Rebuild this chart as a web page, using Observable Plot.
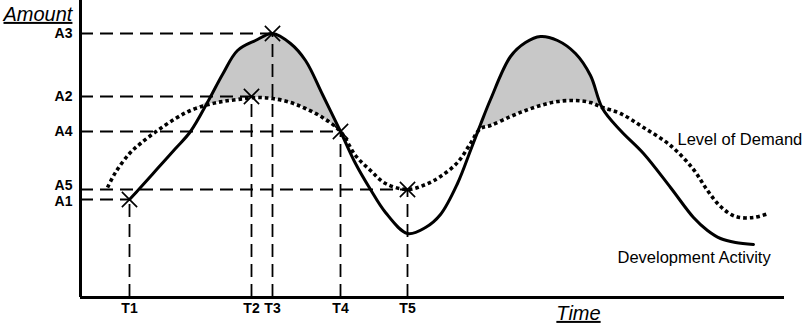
<!DOCTYPE html>
<html><head><meta charset="utf-8">
<script src="https://cdn.jsdelivr.net/npm/d3@7"></script>
<script src="https://cdn.jsdelivr.net/npm/@observablehq/plot@0.6"></script>
<style>body{margin:0;background:#fff}</style>
</head><body><div id="chart"></div>
<script>
// Time axis samples and the two curves (amount above the time axis)
const time     = [27, 35, 49, 60, 77, 95, 110, 128, 142, 157, 175, 192, 210, 225, 242, 260, 275, 290, 305, 327, 345, 360, 377, 390, 400, 410, 430, 445, 460, 477, 495, 510, 522, 540, 563, 590, 613, 627, 640, 655, 673, 688];
const activity = [null, null, 98, 110, 129, 149, 166, 197, 223, 247, 257, 264, 254, 237, 203, 166, 134, 108, 85, 64, 70, 83, 114, 147, 173, 198, 241, 255, 261, 257, 244, 222, 189, 167, 144, 110, 80, 67, 59, 55, 53, null];
const demand   = [110, 125, 144, 154, 167, 179, 187, 193, 196, 198, 200, 199, 195, 189, 180, 166, 142, 127, 114, 108, 113, 121, 135, 154, 169, 172, 181, 187, 192, 196, 197, 195, 190, 184, 170, 152, 128, 107, 91, 81, 80, 84];

// Marked instants and amounts
const tLabels = ["T1", "T2", "T3", "T4", "T5"];
const tValues = [49, 171, 192, 260, 327];
const aLabels = ["A1", "A2", "A3", "A4", "A5"];
const aValues = [98, 201, 264, 166, 108];

const rows = time.map((t, i) => ({t, activity: activity[i], demand: demand[i]}));
const both = rows.filter(d => d.activity != null && d.demand != null);
const points = tValues.map((t, i) => ({t, a: aValues[i]}));
const tTicks = tValues.map((t, i) => ({t, label: tLabels[i]}));
const aTicks = aValues.map((a, i) => ({a, label: aLabels[i]}));
const tickFont = {fontWeight: "bold", fontSize: 14};

const chart = Plot.plot({
  width: 811, height: 330,
  marginLeft: 80, marginRight: 0, marginTop: 0, marginBottom: 33,
  x: {domain: [0, 731], axis: null},
  y: {domain: [0, 297], axis: null},
  style: {fontFamily: "'Liberation Sans', Arial, sans-serif", background: "#fff", overflow: "visible", color: "#000"},
  marks: [
    Plot.areaY(both, {x: "t", y1: "demand", y2: d => Math.max(d.activity, d.demand), fill: "#c8c8c8", curve: "catmull-rom"}),
    Plot.ruleY(points, {y: "a", x1: 0, x2: "t", stroke: "#000", strokeWidth: 1.8, strokeDasharray: "13,7"}),
    Plot.ruleX(points, {x: "t", y1: 0, y2: "a", stroke: "#000", strokeWidth: 1.8, strokeDasharray: "13,7"}),
    Plot.line(rows.filter(d => d.demand != null), {x: "t", y: "demand", stroke: "#000", strokeWidth: 3.6, strokeDasharray: "3.6,3", strokeLinecap: "butt", curve: "catmull-rom"}),
    Plot.line(rows.filter(d => d.activity != null), {x: "t", y: "activity", stroke: "#000", strokeWidth: 3, curve: "catmull-rom"}),
    Plot.dot(points, {x: "t", y: "a", symbol: "times", r: 7, stroke: "#000", strokeWidth: 1.6}),
    Plot.ruleX([0], {y1: 0, y2: 297, stroke: "#000", strokeWidth: 3}),
    Plot.ruleY([0], {x1: 0, x2: 704, stroke: "#000", strokeWidth: 3}),
    Plot.text(tTicks, {x: "t", y: 0, text: "label", lineAnchor: "top", dy: 6, ...tickFont}),
    Plot.text(aTicks.filter(d => d.label !== "A1" && d.label !== "A5"), {x: 0, y: "a", text: "label", textAnchor: "end", dx: -8, ...tickFont}),
    Plot.text(aTicks.filter(d => d.label === "A5"), {x: 0, y: "a", text: "label", textAnchor: "end", dx: -8, dy: -4, ...tickFont}),
    Plot.text(aTicks.filter(d => d.label === "A1"), {x: 0, y: "a", text: "label", textAnchor: "end", dx: -8, dy: 2, ...tickFont}),
    Plot.text(["Amount"], {x: -77, y: 283, textAnchor: "start", fontSize: 20, fontStyle: "italic"}),
    Plot.text(["Time"], {x: 498, y: -16, fontSize: 20, fontStyle: "italic"}),
    Plot.text(["Level of Demand"], {x: 597, y: 158, textAnchor: "start", fontSize: 16.5}),
    Plot.text(["Development Activity"], {x: 537, y: 40, textAnchor: "start", fontSize: 16.5})
  ]
});
chart.querySelectorAll("text").forEach(t => {
  if (t.textContent === "Amount" || t.textContent === "Time") t.style.textDecoration = "underline";
});
document.getElementById("chart").appendChild(chart);
</script>
</body></html>
